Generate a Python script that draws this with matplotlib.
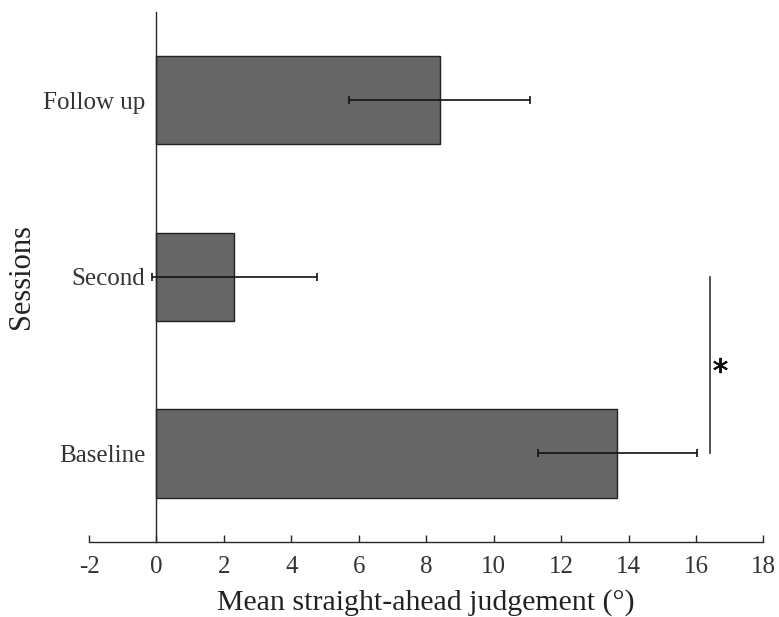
import matplotlib
matplotlib.use("Agg")
import matplotlib.pyplot as plt

# session means and error half-widths
sessions = ["Baseline", "Second", "Follow up"]
means = [13.67, 2.31, 8.40]
errors = [2.36, 2.44, 2.68]

# significance bracket between Baseline and Second
sig_x = 16.41
sig_pair = [1, 2]
sig_star_x = 16.7

plt.rcParams['font.family'] = ['Liberation Serif', 'DejaVu Serif']
plt.rcParams['axes.unicode_minus'] = False

fig = plt.figure(figsize=(7.79, 6.17), dpi=100)
ax = fig.add_axes([0.1143, 0.122, 0.8657, 0.859])

ypos = [1, 2, 3]
ax.barh(ypos, means, height=0.5, color='#666666', edgecolor='#222222', linewidth=1.0)
ax.errorbar(means, ypos, xerr=errors, fmt='none', ecolor='#111111',
            elinewidth=1.2, capsize=3, capthick=1.2)

ax.plot([sig_x, sig_x], sig_pair, color='#333333', linewidth=1.2)
ax.plot([sig_star_x], [sum(sig_pair) / 2], marker=(6, 2, 0), markersize=11,
        markeredgewidth=1.4, color='#111111', linestyle='none')

ax.set_xlim(-2, 18)
ax.set_ylim(0.5, 3.5)
ax.set_xticks(range(-2, 19, 2))
ax.set_yticks(ypos)
ax.set_yticklabels(sessions)

ax.spines['right'].set_visible(False)
ax.spines['top'].set_visible(False)
ax.spines['left'].set_position(('data', 0))
for s in ['left', 'bottom']:
    ax.spines[s].set_color('#262626')
    ax.spines[s].set_linewidth(1.0)

ax.tick_params(axis='x', direction='in', length=5, width=1.0, color='#262626',
               labelsize=18, labelcolor='#333333', pad=10)
ax.tick_params(axis='y', length=0, labelsize=18, labelcolor='#333333', pad=8)

ax.set_xlabel('Mean straight-ahead judgement (°)', fontsize=21.5, color='#222222', labelpad=8)
ax.set_ylabel('Sessions', fontsize=22, color='#222222')
ax.yaxis.set_label_coords(-0.078, 0.5)

plt.savefig('out.png', dpi=100)
